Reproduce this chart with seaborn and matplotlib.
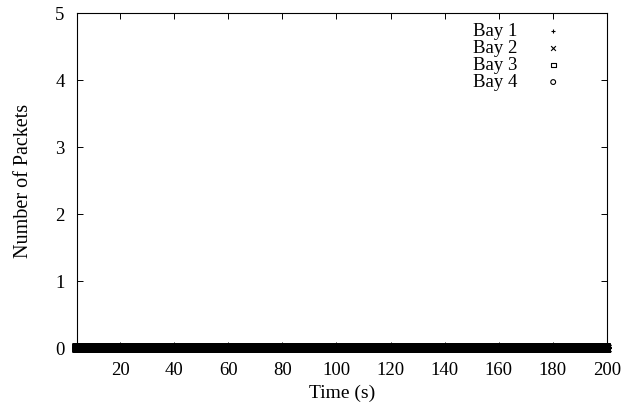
import numpy as np
import pandas as pd
import matplotlib
matplotlib.use("Agg")
import matplotlib.pyplot as plt
import seaborn as sns

# Data: every bay reports zero packets over the whole run
time_s = np.arange(4, 200.2, 0.2)
bay1 = [0] * len(time_s)
bay2 = [0] * len(time_s)
bay3 = [0] * len(time_s)
bay4 = [0] * len(time_s)
bays = ["Bay 1", "Bay 2", "Bay 3", "Bay 4"]
x_ticks = [20, 40, 60, 80, 100, 120, 140, 160, 180, 200]
y_ticks = [0, 1, 2, 3, 4, 5]

df = pd.concat([
    pd.DataFrame({"time": time_s, "packets": vals, "bay": name})
    for name, vals in zip(bays, [bay1, bay2, bay3, bay4])
])

sns.set_theme(style="ticks", rc={"text.color": "black", "axes.labelcolor": "black",
                                 "xtick.color": "black", "ytick.color": "black",
                                 "axes.edgecolor": "black"})
plt.rcParams["font.family"] = ["Liberation Serif", "DejaVu Serif"]

fig, ax = plt.subplots(figsize=(6.34, 4.09), dpi=100)
markers = {"Bay 1": "+", "Bay 2": "x", "Bay 3": "s", "Bay 4": "o"}
sizes = {"Bay 1": 45, "Bay 2": 30, "Bay 3": 28, "Bay 4": 28}
for name in bays:
    sub = df[df["bay"] == name]
    m = markers[name]
    kw = dict(color="black") if m in "+x" else dict(facecolor="none", edgecolor="black")
    sns.scatterplot(data=sub, x="time", y="packets", marker=m, s=sizes[name],
                    linewidth=1.4, label=name, ax=ax, clip_on=False, **kw)

ax.set_xlim(4, 200)
ax.set_ylim(0, 5)
ax.set_xticks(x_ticks)
ax.set_yticks(y_ticks)
ax.tick_params(axis="x", direction="in", top=True, labelsize=13.5, length=4, width=0.7, pad=10)
ax.tick_params(axis="y", direction="in", right=True, labelsize=13.5, length=4, width=0.7, pad=9)
for s in ax.spines.values():
    s.set_linewidth(0.8)
ax.set_xlabel("Time (s)", fontsize=14, labelpad=4)
ax.set_ylabel("Number of Packets", fontsize=14.5, labelpad=16)

leg = ax.legend(loc="upper right", frameon=False, markerfirst=False, fontsize=13.5,
                handletextpad=0.9, labelspacing=0.0, borderaxespad=0.1,
                bbox_to_anchor=(0.952, 1.0))
for h in leg.legend_handles:
    h.set_sizes([12])
    h.set_linewidth(0.8)

fig.subplots_adjust(left=0.1215, right=0.957, top=0.968, bottom=0.149)
fig.savefig("out.png", dpi=100)
